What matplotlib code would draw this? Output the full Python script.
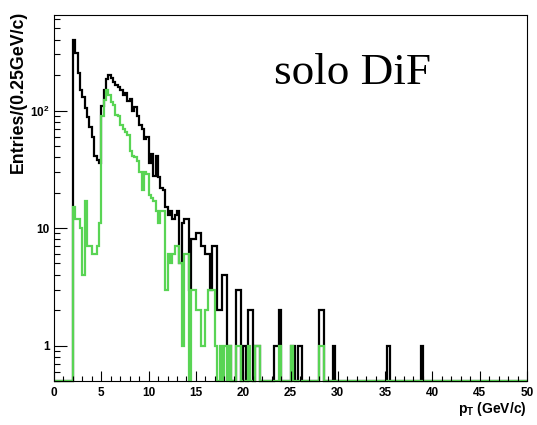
"""
pT spectrum, solo DiF: all entries (black) and selected subset (green)
ROOT-style step histograms on a log scale, 0.25 GeV/c bins
"""

import numpy as np
import matplotlib
matplotlib.use("Agg")
import matplotlib.pyplot as plt
from matplotlib.ticker import FixedLocator, MultipleLocator, NullFormatter

plt.rcParams["font.family"] = ["Liberation Sans", "DejaVu Sans"]
plt.rcParams["mathtext.fontset"] = "custom"
plt.rcParams["mathtext.rm"] = "Liberation Sans"
plt.rcParams["mathtext.bf"] = "Liberation Sans:bold"

# -----------------------------
# Binning
# -----------------------------
bin_width = 0.25
pt_max = 50.0
pt_start = 2.0  # first filled bin

# -----------------------------
# Black histogram: dense part from 2.0 GeV/c, then sparse tail
# -----------------------------
black_dense = [
    400, 310, 210, 150, 130, 105, 88, 72, 60, 41, 38, 36,
    110, 150, 185, 200, 190, 175, 165, 160, 150, 135, 140, 120,
    125, 100, 108, 89, 75, 69, 57, 59, 36, 43, 28, 41,
    27, 22, 21, 15, 13, 14, 12, 13, 14, 5, 11, 12,
    12, 3, 8, 8, 9, 9, 7, 7, 6, 6, 3, 7,
    7, 2, 2, 4, 4, 1, 1, 0, 0, 3, 3, 0,
    1, 0, 2, 2, 0, 1, 1, 0,
]
black_tail_pt = [23.25, 23.5, 23.75, 25.0, 25.25, 25.75, 26.0, 28.0, 28.25, 29.5, 35.25, 38.75]
black_tail_n = [1, 1, 2, 1, 1, 1, 1, 2, 2, 1, 1, 1]

# -----------------------------
# Green histogram
# -----------------------------
green_dense = [
    15, 12, 12, 10, 4, 17, 7, 7, 6, 6, 7, 11,
    90, 124, 150, 135, 118, 112, 92, 89, 75, 70, 66, 62,
    45, 41, 40, 37, 30, 21, 30, 29, 19, 18, 17, 14,
    11, 14, 14, 3, 6, 5, 6, 7, 7, 5, 1, 6,
    6, 0, 3, 3, 2, 2, 1, 1, 2, 3, 3, 3,
    1, 0, 1, 0, 1, 0, 1, 0, 0, 1, 1, 0,
    0, 0, 1, 0, 0, 1, 1, 0,
]
green_tail_pt = [23.75, 25.0, 28.0, 28.25]
green_tail_n = [1, 1, 1, 1]

# -----------------------------
# Utility
# -----------------------------
edges = np.arange(0.0, pt_max + bin_width / 2, bin_width)
n_bins = len(edges) - 1
y_min, y_max = 0.5, 650


def fill(dense, tail_pt, tail_n):
    counts = np.zeros(n_bins)
    i0 = int(round(pt_start / bin_width))
    counts[i0:i0 + len(dense)] = dense
    for pt, n in zip(tail_pt, tail_n):
        counts[int(round(pt / bin_width))] = n
    # empty bins sit on the frame bottom like ROOT does on log axes
    return np.where(counts > 0, counts, y_min)


black = fill(black_dense, black_tail_pt, black_tail_n)
green = fill(green_dense, green_tail_pt, green_tail_n)

# -----------------------------
# Plot
# -----------------------------
fig = plt.figure(figsize=(5.37, 4.25), dpi=100)
ax = fig.add_axes([54 / 537, 1 - 381 / 425, 473 / 537, 366 / 425])

ax.stairs(black, edges, baseline=None, color="black", lw=1.6, clip_on=False)
ax.stairs(green, edges, baseline=None, color="#59d454", lw=1.6, clip_on=False)

ax.set_yscale("log")
ax.set_xlim(0, pt_max)
ax.set_ylim(y_min, y_max)

ax.xaxis.set_major_locator(MultipleLocator(5))
ax.xaxis.set_minor_locator(MultipleLocator(1))
ax.yaxis.set_major_locator(FixedLocator([1, 10, 100]))
ax.yaxis.set_minor_locator(FixedLocator([m * 10 ** e for e in (-1, 0, 1, 2) for m in range(2, 10)]))
ax.yaxis.set_minor_formatter(NullFormatter())
ax.set_yticklabels(["1", "10", r"$\mathbf{10^{2}}$"])

ax.tick_params(axis="both", which="both", direction="in", labelsize=8.5, width=0.8)
ax.tick_params(axis="x", which="major", length=7, pad=4)
ax.tick_params(axis="x", which="minor", length=3.5)
ax.tick_params(axis="y", which="major", length=9, pad=3)
ax.tick_params(axis="y", which="minor", length=4.5)
for lab in ax.get_xticklabels() + ax.get_yticklabels():
    lab.set_fontweight("bold")
for sp in ax.spines.values():
    sp.set_linewidth(0.8)

fig.text(527 / 537, 1 - 409 / 425, r"$\mathbf{p_{T}}$ (GeV/c)", ha="right", va="center",
         fontsize=10, fontweight="bold")
fig.text(18 / 537, 1 - 11 / 425, "Entries/(0.25GeV/c)", rotation=90, ha="center", va="top",
         fontsize=12.8, fontweight="bold")

ax.text(0.465, 0.812, "solo DiF", transform=ax.transAxes, fontsize=32.5,
        family=["Liberation Serif", "DejaVu Serif"], ha="left", va="baseline")

fig.savefig("out.png", dpi=100)
